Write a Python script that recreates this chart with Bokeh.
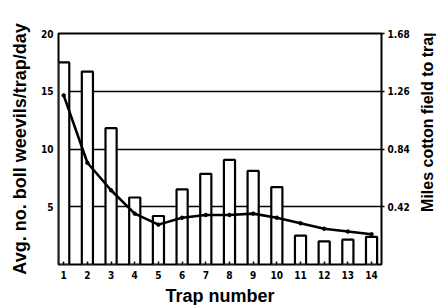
import math
from bokeh.plotting import figure
from bokeh.models import Range1d, LinearAxis, FixedTicker, ColumnDataSource, Label
from bokeh.layouts import row
from bokeh.embed import file_html
from bokeh.resources import INLINE

traps = list(range(1, 15))
weevils = [17.5, 16.7, 11.8, 5.8, 4.2, 6.5, 7.85, 9.05, 8.1, 6.7, 2.5, 2.0, 2.15, 2.4]
miles = [1.23, 0.74, 0.54, 0.37, 0.29, 0.34, 0.36, 0.36, 0.37, 0.34, 0.30, 0.26, 0.24, 0.22]
left_ticks = [5, 10, 15, 20]
right_ticks = [0.42, 0.84, 1.26, 1.68]

src = ColumnDataSource(dict(x=traps, w=weevils, m=miles))

p = figure(frame_width=323, frame_height=231, output_backend="svg", toolbar_location=None,
           x_range=Range1d(0.78, 14.42), y_range=Range1d(0, 20),
           min_border_left=58, min_border_right=37, min_border_top=33, min_border_bottom=40)
p.extra_y_ranges = {"miles": Range1d(0, 1.68)}

p.outline_line_color = "black"
p.outline_line_width = 2
p.xgrid.grid_line_color = None
p.ygrid.ticker = FixedTicker(ticks=left_ticks)
p.ygrid.grid_line_color = "black"
p.ygrid.grid_line_width = 1.3

p.vbar(x="x", top="w", width=0.47, source=src, fill_color="white",
       line_color="black", line_width=2.2)
p.line(x="x", y="m", source=src, y_range_name="miles", line_color="black", line_width=2.6)
p.scatter(x="x", y="m", source=src, y_range_name="miles", size=3.5, color="black")

tick_font = "DejaVu Sans Condensed"
title_font = "Liberation Sans"

def style(a, label, tick_in, tick_out, lab_standoff, title_standoff):
    a.axis_label = label
    a.axis_label_text_font = title_font
    a.axis_label_text_font_style = "bold"
    a.axis_label_text_font_size = "18px"
    a.axis_label_standoff = title_standoff
    a.major_label_text_font = tick_font
    a.major_label_text_font_style = "bold"
    a.major_label_text_font_size = "10px"
    a.major_label_text_color = "black"
    a.axis_label_text_color = "black"
    a.major_tick_in = tick_in
    a.major_tick_out = tick_out
    a.major_tick_line_width = 1.5
    a.minor_tick_line_color = None
    a.axis_line_color = None
    a.major_label_standoff = lab_standoff

ax = p.xaxis[0]
ax.ticker = FixedTicker(ticks=traps)
style(ax, "Trap number", 3, 0, 6, 4)

ay = p.yaxis[0]
ay.ticker = FixedTicker(ticks=left_ticks)
style(ay, "Avg. no. boll weevils/trap/day", 0, 0, 5, 8)

ar = LinearAxis(y_range_name="miles", ticker=FixedTicker(ticks=right_ticks))
style(ar, None, 0, 3, 3, 0)
p.add_layout(ar, "right")

# narrow side figure holding the right-hand title, reading bottom to top
p2 = figure(width=18, height=305, output_backend="svg", toolbar_location=None,
            x_range=Range1d(0, 1), y_range=Range1d(0, 305),
            min_border=0, min_border_top=0, min_border_bottom=0,
            min_border_left=0, min_border_right=0)
try:
    p2.title = None
except Exception:
    p2.title.visible = False
p2.axis.visible = False
p2.grid.grid_line_color = None
p2.outline_line_color = None
p2.add_layout(Label(x=0.5, y=190, text="Miles cotton field to trap", angle=math.pi / 2,
                    text_align="center", text_baseline="middle",
                    text_font=title_font, text_font_style="bold", text_font_size="16px",
                    text_color="black"))

layout = row(p, p2)
open("out.html", "w").write(file_html(layout, INLINE))
